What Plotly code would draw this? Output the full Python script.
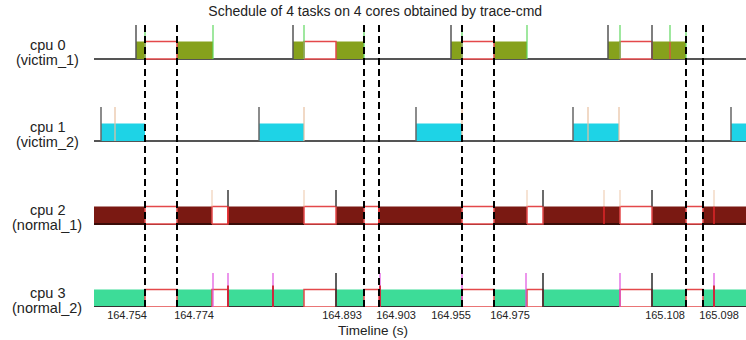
import plotly.graph_objects as go

# ---- data (time positions in trace units along the timeline) ----
row_cpu = ["cpu 0", "cpu 1", "cpu 2", "cpu 3"]
row_task = ["(victim_1)", "(victim_2)", "(normal_1)", "(normal_2)"]

cpu0_run = [(42, 51), (83, 119), (199, 210), (242, 270), (357, 368), (400, 433), (514, 526), (558, 592)]
cpu0_wait = [(51, 83), (210, 242), (368, 400), (526, 558)]
cpu1_run = [(7, 51), (165, 210), (322, 368), (479, 525), (637, 670)]
cpu23_wait = [(51, 83), (118, 134), (210, 242), (270, 285), (368, 400), (433, 449), (526, 558), (592, 609)]

cpu0_wake = [42, 199, 357, 514, 558]
cpu0_switch = [119, 210, 433, 526, 592, 51, 270, 368]
cpu0_mig = [576]
cpu1_wake = [7, 165, 322, 479, 637]
cpu1_switch = [21, 210, 368, 494, 525]
cpu2_dark = [134, 242, 449, 558]
cpu2_light = [118, 210, 433, 510, 620, 526]
cpu2_red = [134, 285, 510, 620]
cpu3_mag = [119, 134, 179, 286, 432, 526, 620, 368]
cpu3_dark = [242, 449, 558]
cpu3_red = [134, 179, 286, 620]

markers = [51, 83, 270, 285, 368, 400, 592, 609]
tick_pos = [33, 100, 248, 302, 357, 416, 571, 625]
tick_text = ["164.754", "164.774", "164.893", "164.903", "164.955", "164.975", "165.108", "165.098"]

T_END = 652
Y_TOP = 285
BASE = [248, 166, 83, 0]
H_FILL = 17.5
H_SPIKE = 34

fig = go.Figure()


def rects(intervals, y0, y1):
    xs, ys = [], []
    for a, b in intervals:
        xs += [a, b, b, a, a, None]
        ys += [y0, y0, y1, y1, y0, None]
    return xs, ys


def spikes(pos, y0, y1):
    xs, ys = [], []
    for p in pos:
        xs += [p, p, None]
        ys += [y0, y1, None]
    return xs, ys


def add_fill(intervals, y0, y1, color, line_color=None, lw=0):
    xs, ys = rects(intervals, y0, y1)
    fig.add_trace(go.Scatter(x=xs, y=ys, fill="toself", fillcolor=color, mode="lines",
                             line=dict(color=line_color or color, width=lw), hoverinfo="skip",
                             showlegend=False))


def add_lines(xs, ys, color, width=1.5, dash=None):
    fig.add_trace(go.Scatter(x=xs, y=ys, mode="lines", line=dict(color=color, width=width, dash=dash),
                             hoverinfo="skip", showlegend=False, connectgaps=False))


RED = "#e4484a"

# cpu 0
b = BASE[0]
add_lines([0, T_END], [b, b], "#555555", 2)
add_fill(cpu0_run, b, b + H_FILL, "#86a11c")
add_fill(cpu0_wait, b, b + H_FILL, "white", RED, 1.5)
add_lines(*spikes(cpu0_wake, b, b + H_SPIKE), "#555555", 1.5)
add_lines(*spikes(cpu0_switch, b, b + H_SPIKE), "#5fd85f", 1.2)
add_lines(*spikes(cpu0_mig, b, b + H_FILL), RED, 1.2)
add_lines(*spikes(cpu0_mig, b + H_FILL, b + H_SPIKE), "#5fd85f", 1.2)

# cpu 1
b = BASE[1]
add_lines([0, T_END], [b, b], "#555555", 2)
add_fill(cpu1_run, b, b + H_FILL, "#1ed3e6")
add_lines(*spikes(cpu1_wake, b, b + H_SPIKE), "#666666", 1.5)
add_lines(*spikes(cpu1_switch, b, b + H_SPIKE), "#e8c0a0", 1.2)

# cpu 2
b = BASE[2]
add_fill([(0, T_END)], b, b + H_FILL, "#7a1912")
add_lines([0, T_END], [b, b], "#3a0c08", 2)
add_fill(cpu23_wait, b, b + H_FILL, "white", RED, 1.5)
add_lines(*spikes(cpu2_light, b + H_FILL, b + H_SPIKE), "#f0d0b8", 1.2)
add_lines(*spikes(cpu2_dark, b + H_FILL, b + H_SPIKE), "#3a3a3a", 1.5)
add_lines(*spikes(cpu2_red, b, b + H_FILL), "#e0262a", 1.5)

# cpu 3
b = BASE[3]
add_fill([(0, T_END)], b, b + H_FILL, "#3ddc98")
add_lines([0, T_END], [b, b], "#333333", 2)
add_fill(cpu23_wait, b, b + H_FILL, "white", RED, 1.5)
add_lines(*spikes(cpu3_mag, b, b + H_SPIKE), "#e050e0", 1.2)
add_lines(*spikes(cpu3_dark, b, b + H_SPIKE), "#2a2a2a", 1.5)
add_lines(*spikes(cpu3_red, b, b + H_FILL + 4), "#d02030", 1.8)

# dashed markers
add_lines(*spikes(markers, 0, Y_TOP), "black", 2, "7px,4px")

LABEL_FONT = dict(size=14.5, color="#222222", family="Liberation Sans, Arial")
for i in range(4):
    fig.add_annotation(x=-0.072, xref="paper", y=(BASE[i] + 14) / Y_TOP, yref="paper", text=row_cpu[i],
                       showarrow=False, xanchor="center", yanchor="middle", font=LABEL_FONT)
    fig.add_annotation(x=-0.072, xref="paper", y=(BASE[i] - 1) / Y_TOP, yref="paper", text=row_task[i],
                       showarrow=False, xanchor="center", yanchor="middle", font=LABEL_FONT)

# x-axis caption centred on the whole figure
fig.add_annotation(x=(373 - 94) / 652, xref="paper", y=-23 / Y_TOP, yref="paper", text="Timeline (s)",
                   showarrow=False, xanchor="center", yanchor="middle",
                   font=dict(size=13.5, color="#222222"))

fig.update_layout(
    width=746, height=340,
    margin=dict(l=94, r=0, t=22, b=33),
    plot_bgcolor="white", paper_bgcolor="white",
    font=dict(family="Liberation Sans, Arial", color="#222222"),
    title=dict(text="Schedule of 4 tasks on 4 cores obtained by trace-cmd", x=0.503, xref="container",
               xanchor="center", y=1 - 11 / 340, yref="container", yanchor="middle",
               font=dict(size=14, color="#222222")),
    xaxis=dict(range=[0, T_END], showgrid=False, zeroline=False, showline=False, ticks="",
               tickvals=tick_pos, ticktext=tick_text, tickfont=dict(size=11, color="#222222")),
    yaxis=dict(range=[0, Y_TOP], showgrid=False, zeroline=False, showline=False, showticklabels=False),
)

fig.write_html("out.html", config={"displayModeBar": False},
               post_script="document.body.style.margin='0px';document.body.style.overflow='hidden';")
